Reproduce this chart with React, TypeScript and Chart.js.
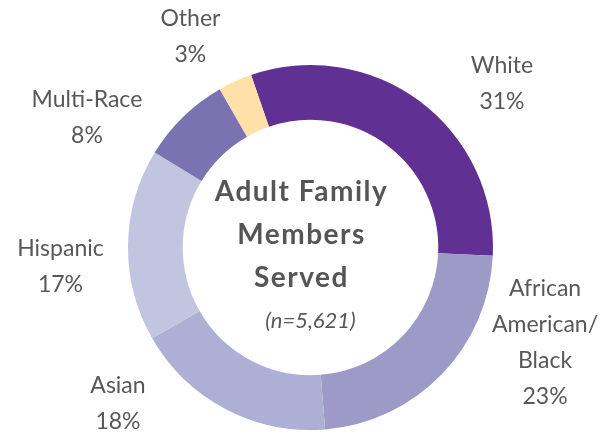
import React, { useEffect, useRef } from "react";
import { Chart, registerables } from "chart.js";

Chart.register(...registerables);

const categories = ["White", "African American/Black", "Asian", "Hispanic", "Multi-Race", "Other"];
const labelLines = [["White", "31%"], ["African", "American/", "Black", "23%"], ["Asian", "18%"], ["Hispanic", "17%"], ["Multi-Race", "8%"], ["Other", "3%"]];
const values = [31, 23, 18, 17, 8, 3];
const colors = ["#603192", "#9D9AC8", "#ADB0D4", "#C2C5E0", "#7B72B2", "#FFE0A8"];
const centerTitle = ["Adult Family", "Members", "Served"];
const centerSub = "(n=5,621)";

// label block centers relative to the arc centre, in units of outer radius
const labelOffsets = [
  [1.049, -0.899],
  [1.285, 0.521],
  [-1.055, 0.855],
  [-1.37, 0.104],
  [-1.225, -0.712],
  [-0.658, -1.156],
];

const TEXT = "#585858";
const FONT = "Lato, 'Open Sans', sans-serif";

const labelPlugin = {
  id: "outerLabels",
  afterDatasetsDraw(chart: any) {
    const ctx = chart.ctx;
    const meta = chart.getDatasetMeta(0);
    ctx.save();
    ctx.textAlign = "center";
    ctx.textBaseline = "middle";
    ctx.fillStyle = TEXT;
    const lh = 36;
    meta.data.forEach((arc: any, i: number) => {
      const R = arc.outerRadius;
      const cx = arc.x + labelOffsets[i][0] * R;
      const cy = arc.y + labelOffsets[i][1] * R;
      const lines = labelLines[i];
      ctx.font = `400 23px ${FONT}`;
      lines.forEach((t, j) => {
        ctx.fillText(t, cx, cy + (j - (lines.length - 1) / 2) * lh);
      });
    });
    // centre text
    const a0 = meta.data[0];
    const x = a0.x;
    const y = a0.y;
    ctx.fillStyle = "#555555";
    ctx.font = `700 28px ${FONT}`;
    try { (ctx as any).letterSpacing = "1.5px"; } catch (e) {}
    centerTitle.forEach((t, j) => {
      ctx.fillText(t, x - 9, y - 56 + j * 43);
    });
    try { (ctx as any).letterSpacing = "0px"; } catch (e) {}
    ctx.fillStyle = TEXT;
    ctx.font = `italic 400 22px ${FONT}`;
    ctx.fillText(centerSub, x, y + 73);
    ctx.restore();
  },
};

export default function App() {
  const ref = useRef<HTMLCanvasElement>(null);
  useEffect(() => {
    document.body.style.margin = "0";
    const chart = new Chart(ref.current!, {
      type: "doughnut",
      data: {
        labels: categories,
        datasets: [
          {
            data: values,
            backgroundColor: colors,
            borderWidth: 0,
            hoverOffset: 0,
          },
        ],
      },
      options: {
        animation: false,
        responsive: false,
        cutout: "70%",
        rotation: -19,
        layout: { padding: { top: 65, bottom: 4, left: 128, right: 116 } },
        plugins: { legend: { display: false }, tooltip: { enabled: false } },
      },
      plugins: [labelPlugin],
    });
    return () => chart.destroy();
  }, []);
  return (
    <div style={{ width: 609, height: 434, background: "#fff" }}>
      <canvas ref={ref} width={609} height={434} />
    </div>
  );
}
